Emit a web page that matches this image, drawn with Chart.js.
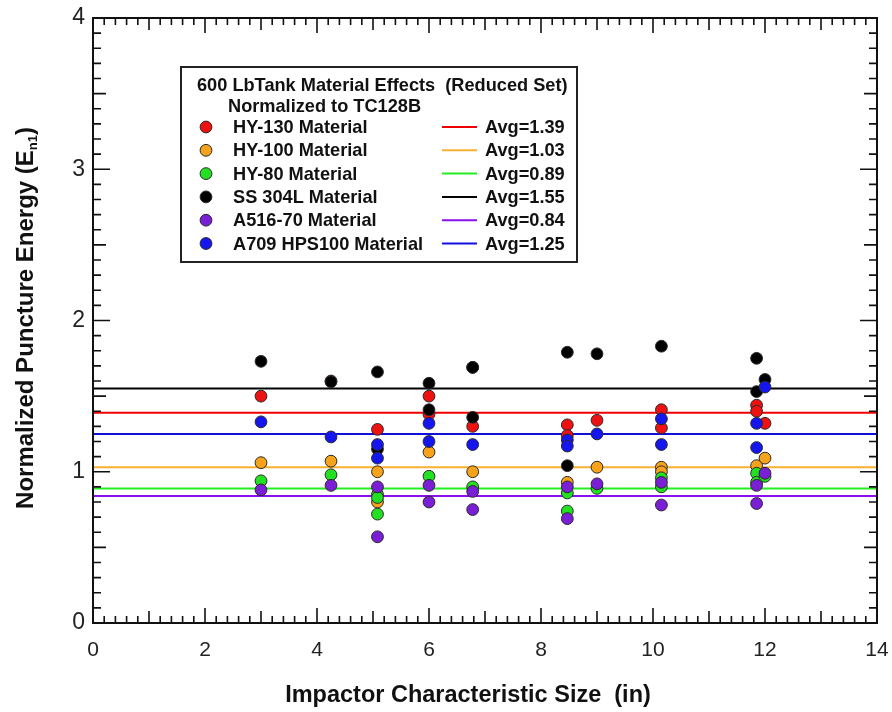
<!DOCTYPE html>
<html>
<head>
<meta charset="utf-8">
<script src="https://cdn.jsdelivr.net/npm/chart.js@4.4.1/dist/chart.umd.min.js"></script>
<style>
  html, body { margin: 0; padding: 0; background: #fff; }
</style>
</head>
<body>
<canvas id="chart" width="892" height="712"></canvas>
<script>
// series names + colours
const seriesNames = ['HY-130 Material', 'HY-100 Material', 'HY-80 Material', 'SS 304L Material', 'A516-70 Material', 'A709 HPS100 Material'];
const pointColors = ['#ee1111', '#f7a21b', '#22e022', '#000000', '#7a1fd6', '#1515ee'];
const lineColors = ['#ee0000', '#f7b030', '#22ee22', '#000000', '#8a10ee', '#1010dd'];
const avgValues = [1.39, 1.03, 0.89, 1.55, 0.84, 1.25];

// HY-130
const xHY130 = [3.0, 4.25, 5.08, 6.0, 6.0, 6.78, 6.78, 8.47, 8.47, 9.0, 10.15, 10.15, 11.85, 11.85, 12.0];
const yHY130 = [1.50, 1.60, 1.28, 1.50, 1.38, 1.69, 1.30, 1.31, 1.24, 1.34, 1.41, 1.29, 1.44, 1.40, 1.32];
// HY-100
const xHY100 = [3.0, 4.25, 5.08, 5.08, 6.0, 6.78, 8.47, 9.0, 10.15, 10.15, 11.85, 12.0];
const yHY100 = [1.06, 1.07, 1.00, 0.80, 1.13, 1.00, 0.93, 1.03, 1.03, 1.00, 1.04, 1.09];
// HY-80
const xHY80 = [3.0, 4.25, 5.08, 5.08, 5.08, 6.0, 6.78, 8.47, 8.47, 9.0, 10.15, 10.15, 11.85, 11.85, 12.0];
const yHY80 = [0.94, 0.98, 0.85, 0.83, 0.72, 0.97, 0.90, 0.86, 0.74, 0.89, 0.96, 0.90, 0.99, 0.93, 0.97];
// SS 304L
const xSS304 = [3.0, 4.25, 5.08, 5.08, 6.0, 6.0, 6.78, 6.78, 8.47, 8.47, 9.0, 10.15, 11.85, 11.85, 12.0];
const ySS304 = [1.73, 1.595, 1.66, 1.15, 1.585, 1.41, 1.69, 1.36, 1.79, 1.04, 1.78, 1.83, 1.75, 1.53, 1.61];
// A516-70
const xA516 = [3.0, 4.25, 5.08, 5.08, 6.0, 6.0, 6.78, 6.78, 8.47, 8.47, 9.0, 10.15, 10.15, 11.85, 11.85, 12.0];
const yA516 = [0.88, 0.91, 0.90, 0.57, 0.91, 0.80, 0.87, 0.75, 0.90, 0.69, 0.92, 0.93, 0.78, 0.91, 0.79, 0.99];
// A709 HPS100
const xA709 = [3.0, 4.25, 5.08, 5.08, 6.0, 6.0, 6.78, 8.47, 8.47, 9.0, 10.15, 10.15, 11.85, 11.85, 12.0];
const yA709 = [1.33, 1.23, 1.18, 1.09, 1.32, 1.20, 1.18, 1.21, 1.17, 1.25, 1.35, 1.18, 1.32, 1.16, 1.56];

const xSeries = [xHY130, xHY100, xHY80, xSS304, xA516, xA709];
const ySeries = [yHY130, yHY100, yHY80, ySS304, yA516, yA709];

const xMin = 0, xMax = 14, yMin = 0, yMax = 4;
const FONT = "'Liberation Sans', Arial, sans-serif";

const datasets = [];
seriesNames.forEach((name, i) => {
    datasets.push({
        type: 'scatter',
        label: name,
        data: xSeries[i].map((x, k) => ({ x: x, y: ySeries[i][k] })),
        backgroundColor: pointColors[i],
        borderColor: '#2a2a2a',
        borderWidth: 1,
        pointRadius: 5.9,
        order: 6 - i
    });
});
avgValues.forEach((v, i) => {
    datasets.push({
        type: 'line',
        label: 'Avg=' + v.toFixed(2),
        data: [{ x: xMin, y: v }, { x: xMax, y: v }],
        borderColor: lineColors[i],
        borderWidth: 2,
        pointRadius: 0,
        order: 20
    });
});

// inside ticks on all four sides + frame
const frameTicks = {
    id: 'frameTicks',
    afterDatasetsDraw(chart) {
        const { ctx, chartArea: a, scales: { x, y } } = chart;
        ctx.save();
        ctx.strokeStyle = '#111';
        ctx.lineWidth = 1.6;
        ctx.beginPath();
        for (let i = 0; i <= 70; i++) {
            const len = i % 10 === 0 ? 15 : (i % 5 === 0 ? 12 : 7);
            const px = x.getPixelForValue(i * 0.2);
            ctx.moveTo(px, a.bottom); ctx.lineTo(px, a.bottom - len);
            ctx.moveTo(px, a.top); ctx.lineTo(px, a.top + len);
        }
        for (let i = 0; i <= 40; i++) {
            const len = i % 10 === 0 ? 17 : (i % 5 === 0 ? 13 : 8);
            const py = y.getPixelForValue(i * 0.1);
            ctx.moveTo(a.left, py); ctx.lineTo(a.left + len, py);
            ctx.moveTo(a.right, py); ctx.lineTo(a.right - len, py);
        }
        ctx.stroke();
        ctx.lineWidth = 2;
        ctx.strokeRect(a.left, a.top, a.width, a.height);
        ctx.restore();
    }
};

// axis titles (y one has a subscript) and the boxed legend
const overlay = {
    id: 'overlay',
    afterDraw(chart) {
        const ctx = chart.ctx;
        ctx.save();
        ctx.fillStyle = '#111';

        // x title
        ctx.font = 'bold 23.5px ' + FONT;
        ctx.textAlign = 'center';
        ctx.textBaseline = 'alphabetic';
        ctx.fillText('Impactor Characteristic Size  (in)', 468, 702);

        // y title, rotated
        const main = 'Normalized Puncture Energy (E';
        ctx.font = 'bold 24px ' + FONT;
        const w1 = ctx.measureText(main).width;
        const w3 = ctx.measureText(')').width;
        ctx.font = 'bold 13px ' + FONT;
        const w2 = ctx.measureText('n1').width;
        const total = w1 + w2 + w3;
        ctx.translate(33, 127 + total);
        ctx.rotate(-Math.PI / 2);
        ctx.textAlign = 'left';
        ctx.font = 'bold 24px ' + FONT;
        ctx.fillText(main, 0, 0);
        ctx.font = 'bold 13px ' + FONT;
        ctx.fillText('n1', w1, 4);
        ctx.font = 'bold 24px ' + FONT;
        ctx.fillText(')', w1 + w2, 0);
        ctx.setTransform(1, 0, 0, 1, 0, 0);

        // legend box
        const bx = 181, by = 67, bw = 396, bh = 195;
        ctx.fillStyle = '#fff';
        ctx.fillRect(bx, by, bw, bh);
        ctx.strokeStyle = '#222';
        ctx.lineWidth = 2;
        ctx.strokeRect(bx, by, bw, bh);

        ctx.fillStyle = '#111';
        ctx.font = 'bold 18.2px ' + FONT;
        ctx.textAlign = 'left';
        ctx.textBaseline = 'middle';
        ctx.fillText('600 LbTank Material Effects  (Reduced Set)', 197, 86);
        ctx.fillText('Normalized to TC128B', 228, 107);

        seriesNames.forEach((name, i) => {
            const ry = 127 + i * 23.3;
            ctx.beginPath();
            ctx.arc(206, ry, 5.9, 0, Math.PI * 2);
            ctx.fillStyle = pointColors[i];
            ctx.fill();
            ctx.strokeStyle = '#2a2a2a';
            ctx.lineWidth = 1;
            ctx.stroke();

            ctx.fillStyle = '#111';
            ctx.fillText(name, 233, ry + 1);

            ctx.beginPath();
            ctx.moveTo(442, ry);
            ctx.lineTo(477, ry);
            ctx.strokeStyle = lineColors[i];
            ctx.lineWidth = 2;
            ctx.stroke();

            ctx.fillStyle = '#111';
            ctx.fillText('Avg=' + avgValues[i].toFixed(2), 485, ry + 1);
        });
        ctx.restore();
    }
};

new Chart(document.getElementById('chart'), {
    data: { datasets: datasets },
    plugins: [frameTicks, overlay],
    options: {
        responsive: false,
        animation: false,
        layout: { padding: { top: 18, right: 15, left: 0, bottom: 0 } },
        plugins: {
            legend: { display: false },
            tooltip: { enabled: false }
        },
        scales: {
            x: {
                type: 'linear',
                min: xMin, max: xMax,
                grid: { display: false, drawTicks: false },
                border: { display: false },
                ticks: {
                    stepSize: 2,
                    padding: 15,
                    color: '#222',
                    font: { family: FONT, size: 21 }
                },
                afterFit(scale) {
                    scale.height = 89;
                    scale.paddingLeft = 0;
                    scale.paddingRight = 0;
                }
            },
            y: {
                type: 'linear',
                min: yMin, max: yMax,
                grid: { display: false, drawTicks: false },
                border: { display: false },
                ticks: {
                    stepSize: 1,
                    padding: 8,
                    color: '#222',
                    font: { family: FONT, size: 23 }
                },
                afterFit(scale) {
                    scale.width = 93;
                    scale.paddingTop = 0;
                    scale.paddingBottom = 0;
                }
            }
        }
    }
});
</script>
</body>
</html>
